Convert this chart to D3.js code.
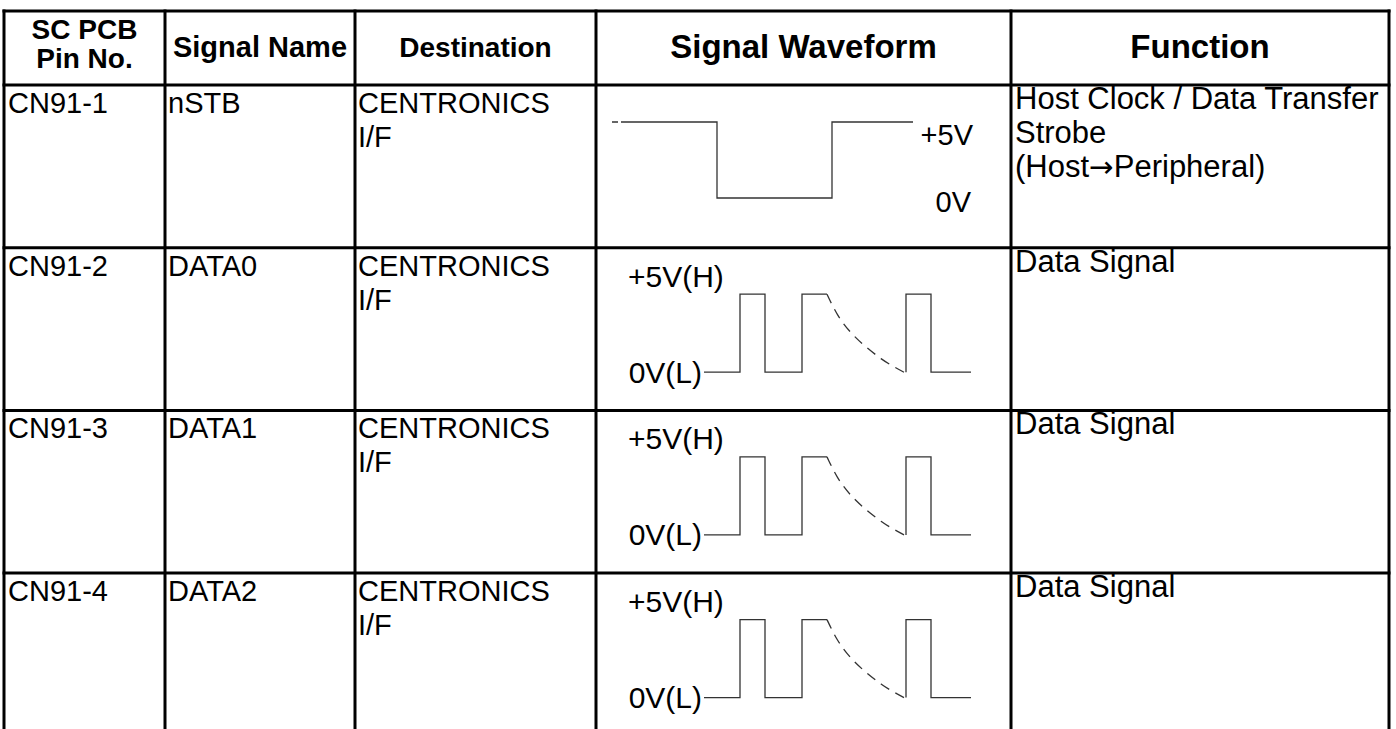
<!DOCTYPE html>
<html>
<head>
<meta charset="utf-8">
<script src="https://cdn.jsdelivr.net/npm/d3@7/dist/d3.min.js"></script>
<style>
  html, body { margin: 0; padding: 0; background: #fff; }
  svg { display: block; }
  text { font-family: "Liberation Sans", Arial, Helvetica, sans-serif; fill: #000; }
</style>
</head>
<body>
<svg id="chart" width="1396" height="729"></svg>
<script>
// ---- data ----
const headers = [["SC PCB", "Pin No."], ["Signal Name"], ["Destination"], ["Signal Waveform"], ["Function"]];
const pins = ["CN91-1", "CN91-2", "CN91-3", "CN91-4"];
const signalNames = ["nSTB", "DATA0", "DATA1", "DATA2"];
const destinations = [["CENTRONICS", "I/F"], ["CENTRONICS", "I/F"], ["CENTRONICS", "I/F"], ["CENTRONICS", "I/F"]];
const functions = [["Host Clock / Data Transfer", "Strobe", "(Host\u2192Peripheral)"], ["Data Signal"], ["Data Signal"], ["Data Signal"]];
const waveTypes = ["strobe", "data", "data", "data"];
// strobe waveform: [time, level] (level 1 = +5V, 0 = 0V)
const strobeWave = [[0, 1], [105, 1], [105, 0], [220, 0], [220, 1], [301, 1]];
const strobeLabels = ["+5V", "0V"];
// data waveform: solid segments and a dashed decay
const dataWaveA = [[0, 0], [36, 0], [36, 1], [61, 1], [61, 0], [98, 0], [98, 1], [123, 1]];
const dataDecay = [[123, 1], [133, 0.73], [146, 0.51], [161, 0.33], [178, 0.16], [189, 0.076], [200, 0]];
const dataWaveB = [[202, 0], [202, 1], [227, 1], [227, 0], [267, 0]];
const dataLabels = ["+5V(H)", "0V(L)"];

// ---- layout ----
const svg = d3.select("#chart");
const colEdges = [4, 165, 355, 596, 1011, 1389];
const tableTop = 11, headerBottom = 85, rowH = 162.7;
const nRows = pins.length;
const rowY = d3.scaleLinear().domain([0, 1]).range([headerBottom, headerBottom + rowH]);
const tableBottom = rowY(nRows);

const g = svg.append("g");

// header text
const headSizes = [28, 29, 28, 33, 33];
headers.forEach((lines, c) => {
  const cx = (colEdges[c] + colEdges[c + 1]) / 2;
  const t = g.append("text")
    .attr("x", cx)
    .attr("text-anchor", "middle")
    .attr("font-weight", "bold")
    .attr("font-size", headSizes[c]);
  if (lines.length === 2) {
    t.append("tspan").attr("x", cx).attr("y", 39).text(lines[0]);
    t.append("tspan").attr("x", cx).attr("y", 68).text(lines[1]);
  } else {
    t.attr("y", c >= 3 ? 58 : 57).text(lines[0]);
  }
});

// body text
const lineH = 34;
function cellText(col, row, lines, dy0, dx, size) {
  const x0 = colEdges[col] + dx;
  const t = g.append("text").attr("font-size", size);
  lines.forEach((s, i) => {
    const ts = t.append("tspan").attr("x", x0).attr("y", rowY(row) + dy0 + i * lineH);
    const parts = s.split("\u2192");
    parts.forEach((p, k) => {
      if (k > 0) ts.append("tspan").attr("font-family", "DejaVu Sans").attr("font-size", size * 0.95).text("\u2192");
      ts.append("tspan").text(p);
    });
  });
}
for (let r = 0; r < nRows; r++) {
  cellText(0, r, [pins[r]], 28, 4, 29);
  cellText(1, r, [signalNames[r]], 28, 3, 29);
  cellText(2, r, destinations[r], 28, 3, 29);
  cellText(4, r, functions[r], 24, 4, 31);
}

// waveforms
const waveColor = "#333";
for (let r = 0; r < nRows; r++) {
  const top = rowY(r);
  const wg = g.append("g");
  if (waveTypes[r] === "strobe") {
    const x = d3.scaleLinear().domain([0, 301]).range([612, 913]);
    const y = d3.scaleLinear().domain([0, 1]).range([top + 113, top + 37]);
    const line = d3.line().x(d => x(d[0])).y(d => y(d[1]));
    wg.append("path").attr("d", line(strobeWave))
      .attr("fill", "none").attr("stroke", waveColor).attr("stroke-width", 1.3)
      .attr("stroke-dasharray", "6,3,2000");
    wg.append("text").attr("x", 973).attr("y", top + 60).attr("text-anchor", "end")
      .attr("font-size", 29).attr("fill", "#222").text(strobeLabels[0]);
    wg.append("text").attr("x", 971).attr("y", top + 127).attr("text-anchor", "end")
      .attr("font-size", 29).attr("fill", "#222").text(strobeLabels[1]);
  } else {
    const x = d3.scaleLinear().domain([0, 267]).range([704, 971]);
    const y = d3.scaleLinear().domain([0, 1]).range([top + 124.5, top + 46.5]);
    const line = d3.line().x(d => x(d[0])).y(d => y(d[1]));
    const curve = d3.line().x(d => x(d[0])).y(d => y(d[1])).curve(d3.curveBasis);
    wg.append("path").attr("d", line(dataWaveA))
      .attr("fill", "none").attr("stroke", waveColor).attr("stroke-width", 1.3);
    wg.append("path").attr("d", curve(dataDecay))
      .attr("fill", "none").attr("stroke", waveColor).attr("stroke-width", 1.3)
      .attr("stroke-dasharray", "10,7");
    wg.append("path").attr("d", line(dataWaveB))
      .attr("fill", "none").attr("stroke", waveColor).attr("stroke-width", 1.3);
    wg.append("text").attr("x", 628).attr("y", top + 39)
      .attr("font-size", 30).attr("fill", "#222").text(dataLabels[0]);
    wg.append("text").attr("x", 702).attr("y", top + 135).attr("text-anchor", "end")
      .attr("font-size", 30).attr("fill", "#222").text(dataLabels[1]);
  }
}

// grid lines
const lw = 3;
const gl = g.append("g").attr("stroke", "#000").attr("stroke-width", lw);
colEdges.forEach(x => {
  gl.append("line").attr("x1", x).attr("x2", x).attr("y1", tableTop - lw / 2).attr("y2", tableBottom);
});
const hLines = [tableTop, headerBottom].concat(d3.range(1, nRows).map(i => rowY(i)));
hLines.forEach(y => {
  gl.append("line").attr("x1", colEdges[0] - lw / 2).attr("x2", colEdges[colEdges.length - 1] + lw / 2).attr("y1", y).attr("y2", y);
});
</script>
</body>
</html>
